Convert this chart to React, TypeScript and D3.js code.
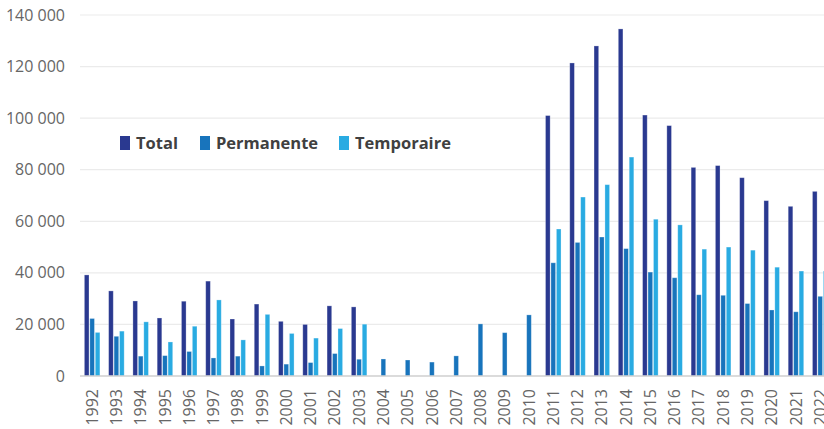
import React from "react";
import * as d3 from "d3";

const years = [
  "1992","1993","1994","1995","1996","1997","1998","1999","2000","2001",
  "2002","2003","2004","2005","2006","2007","2008","2009","2010","2011",
  "2012","2013","2014","2015","2016","2017","2018","2019","2020","2021","2022",
];
const total: (number | null)[] = [
  39200, 33000, 29100, 22500, 29000, 36800, 22100, 27900, 21200, 20000,
  27200, 26800, null, null, null, null, null, null, null, 101000,
  121400, 128000, 134600, 101200, 97100, 80900, 81600, 76900, 68000, 65800, 71600,
];
const permanente: (number | null)[] = [
  22300, 15400, 7700, 7900, 9500, 7000, 7700, 3900, 4600, 5200,
  8700, 6500, 6600, 6200, 5400, 7800, 20200, 16800, 23700, 43900,
  51800, 53900, 49400, 40300, 38100, 31500, 31300, 28100, 25600, 24900, 30900,
];
const temporaire: (number | null)[] = [
  16900, 17400, 21000, 13200, 19300, 29500, 14000, 23900, 16500, 14700,
  18400, 20100, null, null, null, null, null, null, null, 57000,
  69400, 74200, 84900, 60800, 58600, 49200, 50000, 48800, 42200, 40700, 40700,
];
const seriesNames = ["Total", "Permanente", "Temporaire"];
const seriesColors = ["#2a3990", "#1874bc", "#29abe2"];
const yTicks = [0, 20000, 40000, 60000, 80000, 100000, 120000, 140000];

const W = 824;
const H = 429;
const left = 80;
const step = 24.27;
const yTop = 15;
const yBottom = 376;

export default function App() {
  const seriesData = [total, permanente, temporaire];
  const x0 = d3
    .scaleBand<string>()
    .domain(years)
    .range([left, left + years.length * step])
    .paddingInner(0.36)
    .paddingOuter(0.18);
  const x1 = d3
    .scaleBand<string>()
    .domain(seriesNames)
    .range([0, x0.bandwidth()])
    .paddingInner(0.15);
  const y = d3.scaleLinear().domain([0, 140000]).range([yBottom, yTop]);
  const fmt = (v: number) => d3.format(",")(v).replace(/,/g, " ");

  const font = "'Open Sans', 'Noto Sans', sans-serif";

  return (
    <svg
      width={W}
      height={H}
      style={{ position: "absolute", left: 0, top: 0, display: "block", overflow: "hidden", background: "#fff" }}
    >
      {yTicks.map((t) =>
        t === 0 ? null : (
          <line key={"g" + t} x1={left} x2={W} y1={y(t)} y2={y(t)} stroke="#ebebeb" strokeWidth={1.2} />
        )
      )}
      {yTicks.map((t) => (
        <text
          key={"yt" + t}
          x={65}
          y={y(t)}
          dy="0.35em"
          textAnchor="end"
          fontFamily={font}
          fontSize={16}
          fill="#666"
        >
          {fmt(t)}
        </text>
      ))}
      {seriesData.map((arr, si) => (
        <g key={"s" + si}>
          {arr.map((v, i) =>
            v == null ? null : (
              <rect
                key={i}
                x={(x0(years[i]) as number) + (x1(seriesNames[si]) as number)}
                y={y(v)}
                width={x1.bandwidth()}
                height={y(0) - y(v)}
                fill={seriesColors[si]}
                stroke="#ffffff"
                strokeOpacity={0.35}
                strokeWidth={0.8}
              />
            )
          )}
        </g>
      ))}
      <line x1={left} x2={W} y1={y(0)} y2={y(0)} stroke="#cfcfcf" strokeWidth={1.5} />
      {years.map((yr) => {
        const cx = (x0(yr) as number) + x0.bandwidth() / 2;
        return (
          <text
            key={"xl" + yr}
            transform={`translate(${cx},${389}) rotate(-90)`}
            dy="0.35em"
            textAnchor="end"
            fontFamily={font}
            fontSize={16}
            fill="#666"
          >
            {yr}
          </text>
        );
      })}
      {[
        { x: 120, tx: 136 },
        { x: 200, tx: 216 },
        { x: 339, tx: 355 },
      ].map((p, i) => (
        <g key={"lg" + i}>
          <rect x={p.x} y={136} width={10} height={14} fill={seriesColors[i]} />
          <text
            x={p.tx}
            y={149}
            fontFamily={font}
            fontSize={16.5}
            fontWeight={700}
            fill="#404040"
          >
            {seriesNames[i]}
          </text>
        </g>
      ))}
    </svg>
  );
}
